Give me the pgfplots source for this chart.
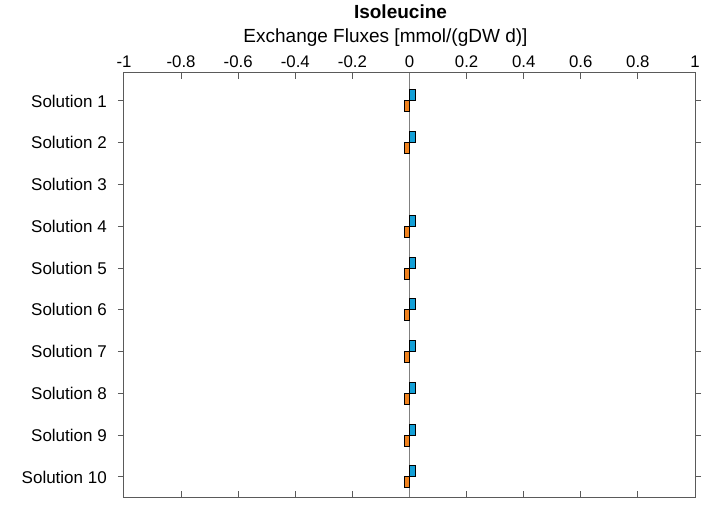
\documentclass[border=0pt]{standalone}
\usepackage{pgfplots}
\pgfplotsset{compat=1.18}
\usepackage{fontspec}
\setmainfont{Liberation Sans}
\definecolor{barblue}{RGB}{20,160,215}
\definecolor{barorange}{RGB}{240,130,30}
\definecolor{axgray}{RGB}{90,90,90}
\begin{document}
\begin{tikzpicture}
\begin{axis}[
  scale only axis,
  width=571pt, height=424pt,
  xmin=-1, xmax=1,
  ymin=0.33, ymax=10.48,
  y dir=reverse,
  xtick={-1,-0.8,-0.6,-0.4,-0.2,0,0.2,0.4,0.6,0.8,1},
  xticklabels={-1,-0.8,-0.6,-0.4,-0.2,0,0.2,0.4,0.6,0.8,1},
  ytick={1,2,3,4,5,6,7,8,9,10},
  yticklabels={Solution 1,Solution 2,Solution 3,Solution 4,Solution 5,Solution 6,Solution 7,Solution 8,Solution 9,Solution 10},
  xticklabel pos=right,
  tick align=inside,
  major tick length=6pt,
  axis line style={axgray, line width=1pt},
  every tick/.style={axgray, line width=1pt},
  xticklabel style={font=\fontsize{16.8}{18}\selectfont, anchor=south, inner sep=0pt, yshift=5pt},
  yticklabel style={font=\fontsize{17}{18}\selectfont, anchor=east, inner sep=0pt, xshift=-11pt},
  /pgf/number format/assume math mode=true,
  extra x ticks={0},
  extra x tick labels={},
  extra x tick style={grid=major, major grid style={gray, line width=1.5pt}, major tick length=0pt},
  xbar, bar width=11pt,
  clip=false,
]
\addplot[draw=black, line width=1pt, fill=barblue, bar shift=5.5pt] coordinates {
 (0.022,1) (0.022,2) (0.022,4) (0.022,5) (0.022,6) (0.022,7) (0.022,8) (0.022,9) (0.022,10)};
\addplot[draw=black, line width=1pt, fill=barorange, bar shift=-5.5pt] coordinates {
 (-0.019,1) (-0.019,2) (-0.019,4) (-0.019,5) (-0.019,6) (-0.019,7) (-0.019,8) (-0.019,9) (-0.019,10)};
\end{axis}
\node[font=\fontsize{19}{22}\selectfont] at ([xshift=-24pt, yshift=35pt]current axis.north) {Exchange Fluxes [mmol/(gDW d)]};
\node[font=\fontsize{19}{22}\selectfont\bfseries] at ([xshift=-9pt, yshift=61pt]current axis.north) {Isoleucine};
\pgfresetboundingbox
\path[use as bounding box] ([xshift=-124pt, yshift=-16pt]current axis.south west) rectangle ([xshift=9pt, yshift=73pt]current axis.north east);
\end{tikzpicture}
\end{document}
